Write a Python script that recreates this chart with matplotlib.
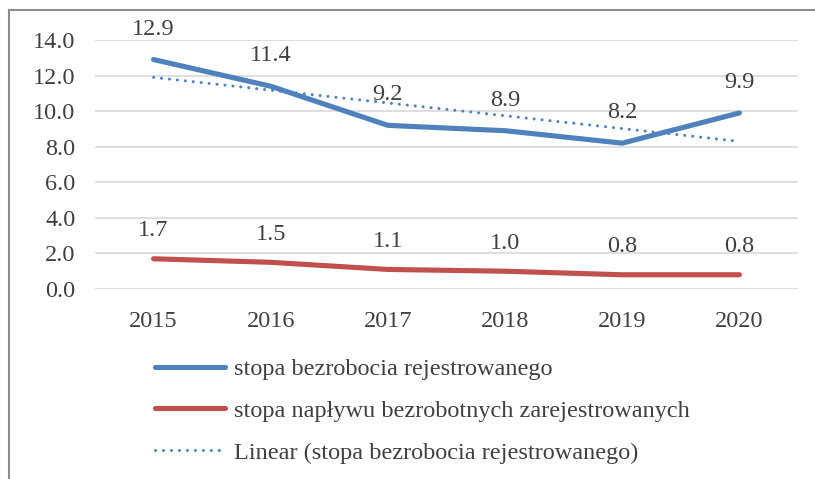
import matplotlib.pyplot as plt
from matplotlib.lines import Line2D

years = ["2015", "2016", "2017", "2018", "2019", "2020"]
unemployment = [12.9, 11.4, 9.2, 8.9, 8.2, 9.9]
inflow = [1.7, 1.5, 1.1, 1.0, 0.8, 0.8]
# Excel linear trendline read at first and last year
trend_years = [0, 5]
trend_values = [11.9, 8.3]

plt.rcParams["font.family"] = ["Liberation Serif", "DejaVu Serif"]
text_color = "#404040"
blue = "#4F81BD"
red = "#C0504D"
fs = 17.5

W, H = 815, 479
fig = plt.figure(figsize=(W / 100, H / 100), dpi=100)
ax = fig.add_axes([95 / W, 1 - 289 / H, (798 - 95) / W, (289 - 40) / H])

x = list(range(len(years)))
ax.plot(x, unemployment, color=blue, lw=3.7, solid_capstyle="round",
        label="stopa bezrobocia rejestrowanego", zorder=3)
ax.plot(x, inflow, color=red, lw=3.7, solid_capstyle="round",
        label="stopa napływu bezrobotnych zarejestrowanych", zorder=3)
ax.plot(trend_years, trend_values, color=blue, lw=2.2, linestyle=(0, (0.01, 2.6)),
        dash_capstyle="round", label="Linear (stopa bezrobocia rejestrowanego)", zorder=2)

for xi, v in zip(x, unemployment):
    ax.annotate(f"{v:.1f}", (xi, v), xytext=(0, 22), textcoords="offset points",
                ha="center", va="center", fontsize=fs, color=text_color)
for xi, v in zip(x, inflow):
    ax.annotate(f"{v:.1f}", (xi, v), xytext=(0, 20), textcoords="offset points",
                ha="center", va="center", fontsize=fs, color=text_color)

ax.set_xlim(-0.5, len(years) - 0.5)
ax.set_ylim(0, 14)
ax.set_yticks([0, 2, 4, 6, 8, 10, 12, 14])
ax.set_yticklabels([f"{v:.1f}" for v in ax.get_yticks()])
ax.set_xticks(x)
ax.set_xticklabels(years)
ax.tick_params(axis="both", length=0, labelsize=fs, labelcolor=text_color)
ax.tick_params(axis="y", pad=14)
ax.tick_params(axis="x", pad=16)
ax.grid(axis="y", color="#D9D9D9", lw=1.2)
ax.set_axisbelow(True)
for s in ax.spines.values():
    s.set_visible(False)

fig.legend(loc="upper left", bbox_to_anchor=(155 / W, 1 - 358 / H), frameon=False,
           fontsize=fs, handlelength=2.9, handletextpad=0.37, labelspacing=0.82,
           labelcolor=text_color, borderaxespad=0, borderpad=0)

# outer chart frame (cut off at right and bottom)
fig.add_artist(Line2D([8.5 / W, 8.5 / W], [0, 1 - 10 / H], transform=fig.transFigure,
                      color="#8C8C8C", lw=1.5))
fig.add_artist(Line2D([8.5 / W, 1], [1 - 10 / H, 1 - 10 / H], transform=fig.transFigure,
                      color="#8C8C8C", lw=1.5))

fig.savefig("out.png", dpi=100)
